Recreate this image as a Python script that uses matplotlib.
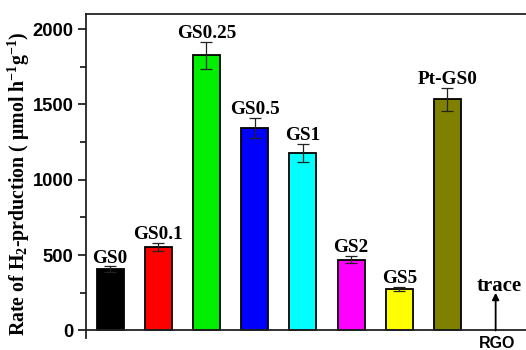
import matplotlib
matplotlib.use('Agg')
import matplotlib.pyplot as plt

# Sample names, H2 production rates and error bars
samples = ['GS0', 'GS0.1', 'GS0.25', 'GS0.5', 'GS1', 'GS2', 'GS5', 'Pt-GS0']
rates = [405, 555, 1825, 1345, 1180, 470, 275, 1535]
errors = [20, 28, 90, 68, 60, 25, 12, 77]
colors = ['#000000', '#ff0000', '#00ee00', '#0000ff', '#00ffff',
          '#ff00ff', '#ffff00', '#808000']
rgo_label = 'RGO'
rgo_note = 'trace'

serif = ['Liberation Serif', 'DejaVu Serif']
sans = ['Liberation Sans', 'DejaVu Sans']

plt.rcParams['mathtext.fontset'] = 'custom'
plt.rcParams['mathtext.rm'] = 'Liberation Serif:bold'
plt.rcParams['mathtext.it'] = 'Liberation Serif:bold'
plt.rcParams['mathtext.bf'] = 'Liberation Serif:bold'

fig = plt.figure(figsize=(5.26, 3.5), dpi=100)
ax = fig.add_axes([0.1635, 0.0343, 0.8365, 0.9257])

x = list(range(1, len(samples) + 1))
ax.bar(x, rates, width=0.56, color=colors, edgecolor='black',
       linewidth=1.3, zorder=2)
ax.errorbar(x, rates, yerr=errors, fmt='none', ecolor='#222222',
            elinewidth=0.9, capsize=4, capthick=0.9, zorder=3)

for xi, name, val, err in zip(x, samples, rates, errors):
    ax.text(xi, val + err + 25, name, ha='center', va='baseline',
            fontsize=13.8, fontweight='bold', family=serif)

# RGO gives only a trace amount: arrow instead of a bar
rgo_x = len(samples) + 1
ax.annotate('', xy=(rgo_x, 250), xytext=(rgo_x, 0),
            arrowprops=dict(arrowstyle='-|>', color='black', lw=1.3,
                            mutation_scale=10, shrinkA=0, shrinkB=0))
ax.text(rgo_x + 0.07, 262, rgo_note, ha='center', va='baseline',
        fontsize=15, fontweight='bold', family=serif)
ax.text(rgo_x + 0.02, -116, rgo_label, ha='center', va='baseline',
        fontsize=11.5, fontweight='bold', family=sans, clip_on=False)

ax.set_xlim(0.5, 9.63)
ax.set_ylim(-50, 2100)

ax.spines['right'].set_visible(False)
ax.spines['bottom'].set_position(('data', 0))
for side in ['left', 'top', 'bottom']:
    ax.spines[side].set_linewidth(1.3)
    ax.spines[side].set_color('#222222')

ax.set_xticks([])
ax.set_yticks([0, 500, 1000, 1500, 2000])
ax.set_yticks([250, 750, 1250, 1750], minor=True)
ax.tick_params(axis='y', which='major', direction='out', length=6,
               width=1.3, color='#222222', pad=3)
ax.tick_params(axis='y', which='minor', direction='out', length=4,
               width=1.3, color='#222222')
for lab in ax.get_yticklabels():
    lab.set_family(sans)
    lab.set_fontweight('bold')
    lab.set_fontsize(13.2)

ax.set_ylabel(r'Rate of H$_\mathregular{2}$-prduction ( μmol h$^\mathregular{-1}$g$^\mathregular{-1}$)',
              fontsize=14.3, fontweight='bold', family=serif)
ax.yaxis.set_label_coords(-0.122, 0.475)

fig.savefig('out.png', dpi=100)
